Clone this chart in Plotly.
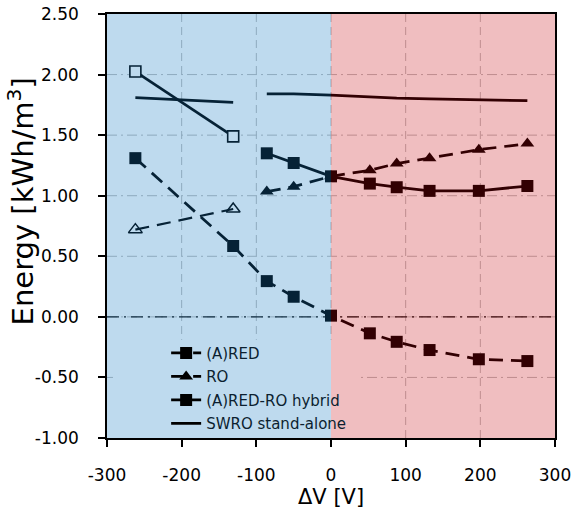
import plotly.graph_objects as go

# ---- data ----
x_left = [-262, -131]
x_right = [-86, -50, 0, 52, 88, 132, 198, 263]
x_all = x_left + x_right

red_all = [1.31, 0.585, 0.295, 0.166, 0.01, -0.136, -0.206, -0.274, -0.35, -0.365]
ro_left = [0.72, 0.89]
ro_right = [1.034, 1.075, 1.16, 1.21, 1.265, 1.31, 1.38, 1.43]
hyb_left = [2.025, 1.49]
hyb_right = [1.35, 1.27, 1.16, 1.10, 1.07, 1.04, 1.04, 1.08]
swro_left = [1.81, 1.77]
swro_right = [1.84, 1.84, 1.83, 1.815, 1.805, 1.80, 1.79, 1.785]

x_ticks = [-300, -200, -100, 0, 100, 200, 300]
y_ticks = [-1.0, -0.5, 0.0, 0.5, 1.0, 1.5, 2.0, 2.5]

X_MIN, X_MAX = -300, 300
Y_MIN, Y_MAX = -1.0, 2.5

FONT = "DejaVu Sans"
INK = "#000000"
LW = 2.75
DASH = "14px,8px"
GRID = "#bdbdbd"

fig = go.Figure()

# (A)RED
fig.add_trace(go.Scatter(
    x=x_all, y=red_all, name="(A)RED", legendgroup="red", mode="lines+markers",
    line=dict(color=INK, width=LW, dash=DASH),
    marker=dict(symbol="square", size=12, color=INK)))

# RO
fig.add_trace(go.Scatter(
    x=x_right, y=ro_right, name="RO", legendgroup="ro", mode="lines+markers",
    line=dict(color=INK, width=LW, dash=DASH),
    marker=dict(symbol="triangle-up", size=12, color=INK)))
fig.add_trace(go.Scatter(
    x=x_left, y=ro_left, name="RO", legendgroup="ro", showlegend=False, mode="lines+markers",
    line=dict(color=INK, width=2.2, dash=DASH),
    marker=dict(symbol="triangle-up-open", size=12, color=INK, line=dict(width=1.5, color=INK))))

# hybrid
fig.add_trace(go.Scatter(
    x=x_right, y=hyb_right, name="(A)RED-RO hybrid", legendgroup="hyb", mode="lines+markers",
    line=dict(color=INK, width=LW),
    marker=dict(symbol="square", size=12, color=INK)))
fig.add_trace(go.Scatter(
    x=x_left, y=hyb_left, name="(A)RED-RO hybrid", legendgroup="hyb", showlegend=False,
    mode="lines+markers", line=dict(color=INK, width=LW),
    marker=dict(symbol="square", size=11, color="white", line=dict(width=1.6, color=INK))))

# SWRO
fig.add_trace(go.Scatter(
    x=x_right, y=swro_right, name="SWRO stand-alone", legendgroup="swro", mode="lines",
    line=dict(color=INK, width=LW)))
fig.add_trace(go.Scatter(
    x=x_left, y=swro_left, name="SWRO stand-alone", legendgroup="swro", showlegend=False,
    mode="lines", line=dict(color=INK, width=LW)))

shapes = []
# grid lines (drawn as below-layer shapes so the legend mask can cover them)
for xv in x_ticks[1:-1]:
    shapes.append(dict(type="line", xref="x", yref="y", x0=xv, x1=xv, y0=Y_MIN, y1=Y_MAX,
                       line=dict(color=GRID, width=1, dash="8px,5px"), layer="below"))
for yv in y_ticks[1:-1]:
    shapes.append(dict(type="line", xref="x", yref="y", x0=X_MIN, x1=X_MAX, y0=yv, y1=yv,
                       line=dict(color=GRID, width=1, dash="10px,4px,2px,4px"), layer="below"))
# mask behind legend (hides grid)
shapes.append(dict(type="rect", xref="x", yref="y", x0=-292, x1=40, y0=Y_MIN, y1=-0.19,
                   fillcolor="white", line=dict(width=0), layer="below"))
# zero line
shapes.append(dict(type="line", xref="x", yref="y", x0=X_MIN, x1=X_MAX, y0=0, y1=0,
                   line=dict(color="#111111", width=1.3, dash="12px,5px,2px,5px"), layer="below"))
# tinted overlays
shapes.append(dict(type="rect", xref="x", yref="y", x0=X_MIN - 1.5, x1=0, y0=Y_MIN - 0.012, y1=Y_MAX + 0.012,
                   fillcolor="rgba(23,123,194,0.28)", line=dict(width=0), layer="above"))
shapes.append(dict(type="rect", xref="x", yref="y", x0=0, x1=X_MAX + 1.5, y0=Y_MIN - 0.012, y1=Y_MAX + 0.012,
                   fillcolor="rgba(196,0,8,0.255)", line=dict(width=0), layer="above"))

fig.update_layout(
    width=574, height=515,
    margin=dict(l=107, r=19, t=14, b=77, autoexpand=False),
    paper_bgcolor="white", plot_bgcolor="white",
    font=dict(family=FONT, color=INK),
    shapes=shapes,
    showlegend=True,
    legend=dict(x=0.132, y=0.239, xanchor="left", yanchor="top",
                bgcolor="rgba(0,0,0,0)", font=dict(size=15, family=FONT, color="#0c1f30"),
                traceorder="grouped", tracegroupgap=1),
    annotations=[
        dict(text="Energy [kWh/m<sup>3</sup>]", xref="paper", yref="paper", x=-0.192, y=0.558,
             xanchor="center", yanchor="middle", textangle=-90, showarrow=False,
             font=dict(size=29, family=FONT, color=INK)),
        dict(text="ΔV [V]", xref="paper", yref="paper", x=0.5, y=-0.139,
             xanchor="center", yanchor="middle", showarrow=False,
             font=dict(size=21, family=FONT, color=INK)),
    ],
)

fig.update_xaxes(range=[X_MIN, X_MAX], tickvals=x_ticks, ticktext=[str(v) for v in x_ticks],
                 showline=True, linecolor=INK, linewidth=1.5, mirror=True,
                 ticks="outside", ticklen=7, tickcolor=INK, tickwidth=1.5,
                 showgrid=False, zeroline=False, automargin=False,
                 tickfont=dict(size=17, family=FONT, color=INK),
                 ticklabelstandoff=14)
fig.update_yaxes(range=[Y_MIN, Y_MAX], tickvals=y_ticks, ticktext=[f"{v:.2f}" for v in y_ticks],
                 showline=True, linecolor=INK, linewidth=1.5, mirror=True,
                 ticks="outside", ticklen=7, tickcolor=INK, tickwidth=1.5,
                 showgrid=False, zeroline=False, automargin=False,
                 tickfont=dict(size=17, family=FONT, color=INK),
                 ticklabelstandoff=16)

fig.write_html("out.html")
